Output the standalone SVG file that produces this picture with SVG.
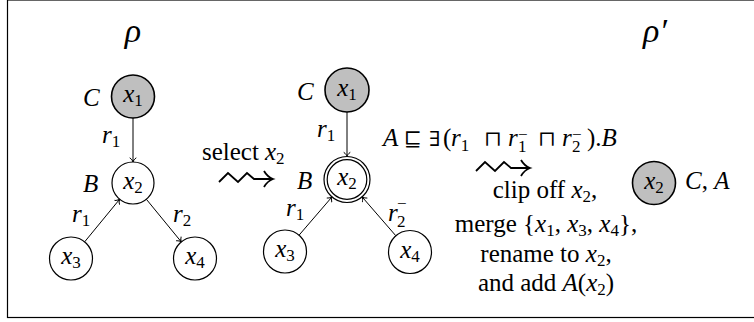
<svg xmlns="http://www.w3.org/2000/svg" width="754" height="322" viewBox="0 0 754 322" font-family="Liberation Serif">
<style>
text{font-family:'Liberation Serif',serif;font-size:25px;fill:#000}
.i{font-family:'Liberation Serif';font-style:italic}
.s{font-family:'Liberation Serif';font-size:17px;font-style:normal}
.c{text-anchor:middle}
.m{font-family:'DejaVu Serif',serif;font-size:21px}
.node{fill:#fff;stroke:#000;stroke-width:1.2}
.gray{fill:#bfbfbf;stroke:#000;stroke-width:1.6}
.edge{fill:none;stroke:#000;stroke-width:1}
.sq{fill:none;stroke:#000;stroke-width:1.8;stroke-linejoin:miter}
</style>
<defs>
<marker id="ah" markerUnits="userSpaceOnUse" markerWidth="12" markerHeight="12" viewBox="-6 -6 12 12" refX="0" refY="0" orient="auto">
<path d="M-4.2,-3.3 C-2.9,-1.3 -1.2,-0.3 0,0 C-1.2,0.3 -2.9,1.3 -4.2,3.3" fill="none" stroke="#000" stroke-width="1"/>
</marker>
<g id="squig">
<path class="sq" d="M0,3 L9,-6 L19,3 L28,-6 L35,0 L53,0"/>
<path class="sq" d="M45,-8 Q48.5,-2 54,0 Q48.5,2 45,8"/>
</g>
</defs>
<rect x="7.5" y="0" width="750" height="317.5" fill="#fff" stroke="#000" stroke-width="1.2"/>

<text class="c" x="133" y="42" font-style="italic" style="font-size:34px;font-style:italic">ρ</text>
<text class="c" x="655" y="42" font-style="italic" style="font-size:34px;font-style:italic">ρ′</text>

<g id="edges">
<line class="edge" x1="133" y1="118" x2="133" y2="162" marker-end="url(#ah)"/>
<line class="edge" x1="84.6" y1="241.9" x2="119.7" y2="199.2" marker-end="url(#ah)"/>
<line class="edge" x1="146.3" y1="199.2" x2="181.3" y2="241.9" marker-end="url(#ah)"/>
<line class="edge" x1="347" y1="112" x2="347" y2="156.5" marker-end="url(#ah)"/>
<line class="edge" x1="299.2" y1="235" x2="332" y2="196.9" marker-end="url(#ah)"/>
<line class="edge" x1="395.7" y1="235.6" x2="362.1" y2="196.9" marker-end="url(#ah)"/>
</g>

<g id="L_x1">
<circle class="gray" cx="133" cy="96.5" r="21.5"/>
<text class="c" x="133" y="102"><tspan class="i" font-style="italic">x</tspan><tspan class="s" dy="4">1</tspan></text>
<text class="i" font-style="italic" x="83" y="106">C</text>
</g>
<g id="L_x2">
<circle class="node" cx="133" cy="183" r="21"/>
<text class="c" x="133" y="188.5"><tspan class="i" font-style="italic">x</tspan><tspan class="s" dy="4">2</tspan></text>
<text class="i" font-style="italic" x="83" y="192">B</text>
</g>
<g id="L_x3">
<circle class="node" cx="71" cy="258.5" r="21.5"/>
<text class="c" x="71" y="264"><tspan class="i" font-style="italic">x</tspan><tspan class="s" dy="4">3</tspan></text>
</g>
<g id="L_x4">
<circle class="node" cx="195" cy="258.5" r="21.5"/>
<text class="c" x="195" y="264"><tspan class="i" font-style="italic">x</tspan><tspan class="s" dy="4">4</tspan></text>
</g>
<text x="102" y="143"><tspan class="i" font-style="italic">r</tspan><tspan class="s" dy="4">1</tspan></text>
<text x="72" y="222"><tspan class="i" font-style="italic">r</tspan><tspan class="s" dy="4">1</tspan></text>
<text x="173" y="222"><tspan class="i" font-style="italic">r</tspan><tspan class="s" dy="4">2</tspan></text>

<text x="202" y="160">select<tspan class="i" font-style="italic" x="265">x</tspan><tspan class="s" dy="4">2</tspan></text>
<use href="#squig" x="219" y="179"/>

<g id="M_x1">
<circle class="gray" cx="347" cy="90" r="22"/>
<text class="c" x="347" y="95.5"><tspan class="i" font-style="italic">x</tspan><tspan class="s" dy="4">1</tspan></text>
<text class="i" font-style="italic" x="297" y="100">C</text>
</g>
<g id="M_x2">
<circle class="node" cx="347" cy="179.5" r="23"/>
<circle class="node" cx="347" cy="179.5" r="19.8"/>
<text class="c" x="347" y="185"><tspan class="i" font-style="italic">x</tspan><tspan class="s" dy="4">2</tspan></text>
<text class="i" font-style="italic" x="297" y="188.5">B</text>
</g>
<g id="M_x3">
<circle class="node" cx="285" cy="251.5" r="21.5"/>
<text class="c" x="285" y="257"><tspan class="i" font-style="italic">x</tspan><tspan class="s" dy="4">3</tspan></text>
</g>
<g id="M_x4">
<circle class="node" cx="410" cy="252" r="21.5"/>
<text class="c" x="410" y="257.5"><tspan class="i" font-style="italic">x</tspan><tspan class="s" dy="4">4</tspan></text>
</g>
<text x="317" y="136.5"><tspan class="i" font-style="italic">r</tspan><tspan class="s" dy="4">1</tspan></text>
<text x="286" y="216"><tspan class="i" font-style="italic">r</tspan><tspan class="s" dy="4">1</tspan></text>
<text x="388" y="221"><tspan class="i" font-style="italic">r</tspan><tspan class="s" x="397" dy="6">2</tspan><tspan class="s" x="397" dy="-18">−</tspan></text>

<text x="383" y="146"><tspan class="i" font-style="italic">A</tspan><tspan class="m" x="404">⊑</tspan><tspan class="m" x="429">∃</tspan><tspan x="443">(</tspan><tspan class="i" font-style="italic" x="451">r</tspan><tspan class="s" dy="5">1</tspan><tspan class="m" x="484" dy="-5">⊓</tspan><tspan class="i" font-style="italic" x="508">r</tspan><tspan class="s" x="518" dy="6">1</tspan><tspan class="s" x="518" dy="-12">−</tspan><tspan class="m" x="538" dy="6">⊓</tspan><tspan class="i" font-style="italic" x="562">r</tspan><tspan class="s" x="572" dy="6">2</tspan><tspan class="s" x="572" dy="-12">−</tspan><tspan x="587" dy="6">).</tspan><tspan class="i" font-style="italic">B</tspan></text>
<use href="#squig" x="476" y="168"/>

<text class="c" x="545" y="198">clip off <tspan class="i" font-style="italic">x</tspan><tspan class="s" dy="4">2</tspan><tspan dy="-4">,</tspan></text>
<text class="c" x="546" y="232">merge {<tspan class="i" font-style="italic">x</tspan><tspan class="s" dy="4">1</tspan><tspan dy="-4">, </tspan><tspan class="i" font-style="italic">x</tspan><tspan class="s" dy="4">3</tspan><tspan dy="-4">, </tspan><tspan class="i" font-style="italic">x</tspan><tspan class="s" dy="4">4</tspan><tspan dy="-4">},</tspan></text>
<text class="c" x="546" y="262">rename to <tspan class="i" font-style="italic">x</tspan><tspan class="s" dy="4">2</tspan><tspan dy="-4">,</tspan></text>
<text class="c" x="546" y="291">and add <tspan class="i" font-style="italic">A</tspan>(<tspan class="i" font-style="italic">x</tspan><tspan class="s" dy="4">2</tspan><tspan dy="-4">)</tspan></text>

<g id="R_x2">
<circle class="gray" cx="654" cy="183" r="21.5"/>
<text class="c" x="654" y="188.5"><tspan class="i" font-style="italic">x</tspan><tspan class="s" dy="4">2</tspan></text>
<text x="685" y="189"><tspan class="i" font-style="italic">C</tspan>, <tspan class="i" font-style="italic">A</tspan></text>
</g>
</svg>
